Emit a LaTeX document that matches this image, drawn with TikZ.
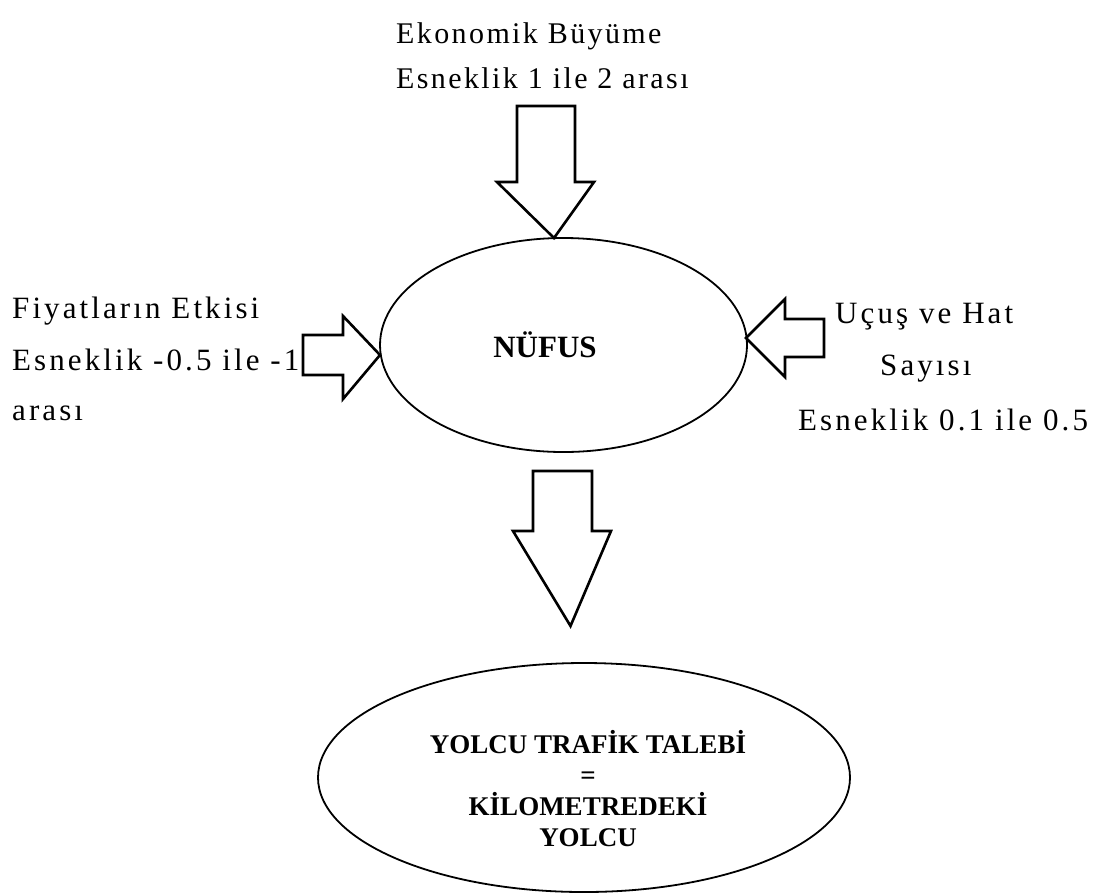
\documentclass[tikz,border=0pt]{standalone}
\usepackage{fontspec}
\setmainfont{Liberation Serif}
\newfontfamily\sideserif[LetterSpace=10]{Liberation Serif}
\newfontfamily\topserif[LetterSpace=8]{Liberation Serif}
\usetikzlibrary{shapes.geometric}
\begin{document}
\begin{tikzpicture}[x=1pt,y=-1pt,
  lbl/.style={anchor=base west, inner sep=0pt, font=\sideserif\fontsize{31}{31}\selectfont},
  toplbl/.style={anchor=base west, inner sep=0pt, font=\topserif\fontsize{30}{30}\selectfont},
  boldlbl/.style={anchor=base, inner sep=0pt, font=\bfseries\fontsize{27}{27}\selectfont},
  oval/.style={draw, ellipse, line width=1.8pt, inner sep=0pt},
  blockarrow/.style={draw, line width=2.6pt, line join=miter, fill=white}]
\useasboundingbox (0,0) rectangle (1099,895);

% ellipses
\node[oval, minimum width=367pt, minimum height=214pt] (nufus) at (563.5,345) {};
\node[oval, minimum width=532pt, minimum height=229pt] (talep) at (584,777.5) {};

% texts inside the ellipses
\node[boldlbl, font=\bfseries\fontsize{31}{31}\selectfont] (nufustxt) at (545,357) {NÜFUS};
\node[boldlbl] (t1) at (588,753) {YOLCU TRAFİK TALEBİ};
\node[boldlbl] (t2) at (588,784) {=};
\node[boldlbl] (t3) at (588,815) {KİLOMETREDEKİ};
\node[boldlbl] (t4) at (588,846) {YOLCU};

% block arrows
\coordinate (tipTop) at (554,238);
\coordinate (tipLeft) at (380,355);
\coordinate (tipRight) at (746,338);
\coordinate (tipDown) at (570.5,626);
\draw[blockarrow] (517,106) -- (575,106) -- (575,182) -- (594,182) -- (tipTop)
  -- (497,182) -- (517,182) -- cycle;
\draw[blockarrow] (303,335) -- (343,335) -- (343,316) -- (tipLeft)
  -- (343,399) -- (343,375) -- (303,375) -- cycle;
\draw[blockarrow] (824,319) -- (785,319) -- (785,299) -- (tipRight)
  -- (785,377) -- (785,357) -- (824,357) -- cycle;
\draw[blockarrow] (533,471) -- (592,471) -- (592,531) -- (611,531) -- (tipDown)
  -- (513,531) -- (533,531) -- cycle;

% factor labels
\node[toplbl] (eko1) at (396,43) {Ekonomik Büyüme};
\node[toplbl] (eko2) at (396,88) {Esneklik 1 ile 2 arası};
\node[lbl] (fiy1) at (12,318) {Fiyatların Etkisi};
\node[lbl] (fiy2) at (12,370) {Esneklik -0.5 ile -1};
\node[lbl] (fiy3) at (12,420) {arası};
\node[lbl] (ucu1) at (835,323) {Uçuş ve Hat};
\node[lbl] (ucu2) at (880,375) {Sayısı};
\node[lbl] (ucu3) at (798,430) {Esneklik 0.1 ile 0.5};
\end{tikzpicture}
\end{document}
